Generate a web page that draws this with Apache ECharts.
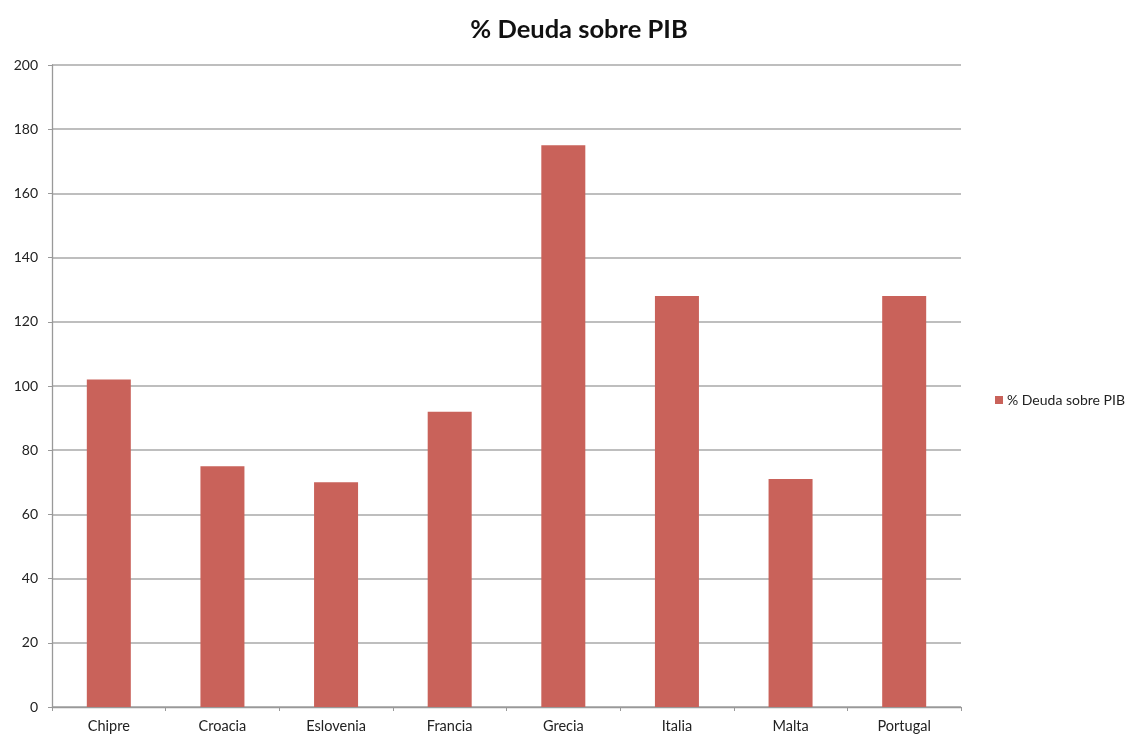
<!DOCTYPE html>
<html>
<head>
<meta charset="utf-8">
<script src="https://cdn.jsdelivr.net/npm/echarts@6/dist/echarts.min.js"></script>
<style>
  html, body { margin: 0; padding: 0; background: #ffffff; }
  #chart { width: 1131px; height: 740px; }
</style>
</head>
<body>
<div id="chart"></div>
<script>
// Public debt as % of GDP by country
const countries = ['Chipre', 'Croacia', 'Eslovenia', 'Francia', 'Grecia', 'Italia', 'Malta', 'Portugal'];
const debtPct = [102, 75, 70, 92, 175, 128, 71, 128];
const seriesName = '% Deuda sobre PIB';

const chart = echarts.init(document.getElementById('chart'), null, { renderer: 'canvas' });
const font = 'Lato, "Open Sans", sans-serif';

chart.setOption({
  animation: false,
  backgroundColor: '#ffffff',
  title: {
    text: seriesName,
    left: 574,
    textAlign: 'center',
    top: 12,
    textStyle: { fontFamily: font, fontWeight: 'bold', fontSize: 25.5, color: '#111111' }
  },
  legend: {
    data: [seriesName],
    left: 990,
    top: 388,
    icon: 'rect',
    itemWidth: 8,
    itemHeight: 8,
    itemGap: 4,
    textStyle: { fontFamily: font, fontSize: 14, color: '#222222', padding: [0, 0, 0, -1] }
  },
  grid: { left: 52, right: 170, top: 65, bottom: 33, containLabel: false },
  xAxis: {
    type: 'category',
    data: countries,
    axisLine: { lineStyle: { color: '#999999', width: 1.3 } },
    axisTick: { show: true, length: 4, lineStyle: { color: '#999999' } },
    axisLabel: { fontFamily: font, fontSize: 14.5, color: '#222222', margin: 12 }
  },
  yAxis: {
    type: 'value',
    min: 0,
    max: 200,
    interval: 20,
    axisLine: { show: true, lineStyle: { color: '#999999', width: 1.3 } },
    axisTick: { show: true, length: 4, lineStyle: { color: '#999999' } },
    axisLabel: { fontFamily: font, fontSize: 14, color: '#222222', margin: 14 },
    splitLine: { lineStyle: { color: '#bebebe', width: 2 } }
  },
  series: [{
    name: seriesName,
    type: 'bar',
    data: debtPct,
    barWidth: 44,
    itemStyle: { color: '#c9625a' }
  }]
});
</script>
</body>
</html>
